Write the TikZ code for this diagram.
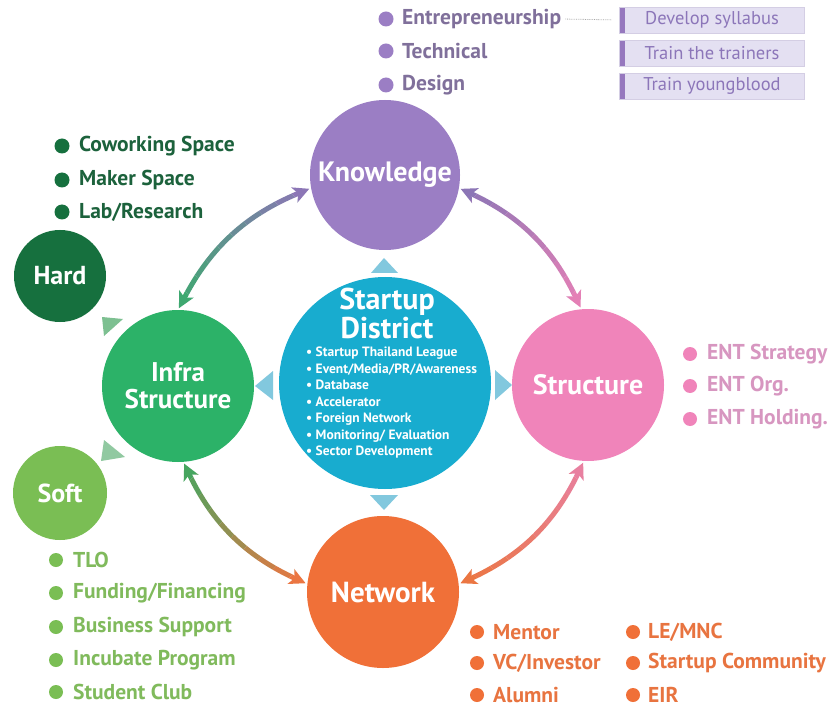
\documentclass[tikz,border=0pt]{standalone}
\usepackage{fontspec}
\setmainfont{PT Sans}
\usetikzlibrary{arrows.meta,calc}
\definecolor{kpur}{RGB}{155,126,196}
\definecolor{kpurtxt}{RGB}{128,112,155}
\definecolor{boxfill}{RGB}{228,224,242}
\definecolor{boxline}{RGB}{212,206,228}
\definecolor{boxbar}{RGB}{150,120,190}
\definecolor{boxtxt}{RGB}{140,118,185}
\definecolor{sdcyan}{RGB}{24,172,207}
\definecolor{tricyan}{RGB}{130,200,222}
\definecolor{igreen}{RGB}{44,178,104}
\definecolor{hgreen}{RGB}{22,112,62}
\definecolor{hgreentxt}{RGB}{28,98,60}
\definecolor{sgreen}{RGB}{122,190,84}
\definecolor{sgreentxt}{RGB}{128,186,92}
\definecolor{trigreen}{RGB}{125,192,145}
\definecolor{spink}{RGB}{240,132,186}
\definecolor{spinktxt}{RGB}{215,150,192}
\definecolor{norange}{RGB}{240,112,56}
\definecolor{norangetxt}{RGB}{232,116,64}
\definecolor{aPur}{RGB}{140,118,182}
\definecolor{aGrn}{RGB}{62,168,112}
\definecolor{aPink}{RGB}{228,128,182}
\definecolor{aGrn2}{RGB}{70,165,95}
\definecolor{aOr}{RGB}{235,118,66}
\definecolor{aPink2}{RGB}{232,128,160}
\tikzset{
  big/.style={circle, inner sep=0pt, outer sep=0pt, text=white, align=center},
  bulbig/.style={circle, inner sep=0pt, minimum size=15pt},
  bulsm/.style={circle, inner sep=0pt, minimum size=14pt},
  itm/.style={anchor=west, inner sep=0pt, font=\bfseries\fontsize{21.5}{21.5}\selectfont},
  sylbox/.style={rectangle, minimum width=185pt, minimum height=26pt, inner sep=0pt,
     fill=boxfill, draw=boxline, text=boxtxt, font=\fontsize{18.5}{18.5}\selectfont,
     path picture={\fill[boxbar] (path picture bounding box.north west) rectangle
       ([xshift=5pt]path picture bounding box.south west);}},
  garrow/.style={line width=5pt, shorten <=2pt, shorten >=2pt,
     {Stealth[length=16pt,width=16pt,inset=4pt]}-{Stealth[length=16pt,width=16pt,inset=4pt]}}
}
\newcommand\gradarrow[5]{%
  \foreach \i in {0,...,9}{%
    \pgfmathsetmacro\ta{ifthenelse(\i==0,-0.5,\i/10)}%
    \pgfmathsetmacro\tb{ifthenelse(\i==9,1.5,(\i+1)/10)}%
    \pgfmathtruncatemacro\pc{100-\i*100/9}%
    \begin{scope}
      \coordinate (ga) at ($(#1)!\ta!(#2)$);
      \coordinate (gb) at ($(#1)!\tb!(#2)$);
      \clip ($(ga)!400pt!90:(#2)$) -- ($(ga)!400pt!-90:(#2)$) --
            ($(gb)!400pt!-90:(#2)$) -- ($(gb)!400pt!90:(#2)$) -- cycle;
      \draw[garrow, color=#4!\pc!#5] (#1) to[#3] (#2);
    \end{scope}
  }%
}
\begin{document}
\begin{tikzpicture}[x=1pt,y=-1pt]
\useasboundingbox[fill=white] (0,0) rectangle (834,708);

% main circles
\node[big, fill=kpur, minimum size=150pt, font=\bfseries\fontsize{28}{28}\selectfont] (know) at (385,175) {Knowledge};
\node[big, fill=sdcyan, minimum size=212pt] (sd) at (385,383) {};
\node[big, fill=igreen, minimum size=152pt, font=\bfseries\fontsize{27}{27}\selectfont] (infra) at (178,386) {Infra\\Structure};
\node[big, fill=spink, minimum size=152pt, font=\bfseries\fontsize{28}{28}\selectfont] (struct) at (588,385) {Structure};
\node[big, fill=norange, minimum size=152pt, font=\bfseries\fontsize{29}{29}\selectfont] (net) at (383,592) {Network};
\node[big, fill=hgreen, minimum size=92pt, font=\bfseries\fontsize{26}{26}\selectfont] (hard) at (60,276) {Hard};
\node[big, fill=sgreen, minimum size=94pt, font=\bfseries\fontsize{26}{26}\selectfont] (soft) at (60,493) {Soft};

% startup district text
\node[text=white, align=center, inner sep=0pt, font=\bfseries\fontsize{30}{29}\selectfont] (sdt) at (387,313) {Startup\\District};
\node[anchor=north west, align=left, text=white, inner sep=0pt, font=\bfseries\fontsize{13.5}{16.5}\selectfont] (sdl) at (306,347)
 {\textbullet\ Startup Thailand League\\
  \textbullet\ Event/Media/PR/Awareness\\
  \textbullet\ Database\\
  \textbullet\ Accelerator\\
  \textbullet\ Foreign Network\\
  \textbullet\ Monitoring/ Evaluation\\
  \textbullet\ Sector Development};

% triangles around startup district
\fill[tricyan] (371,273) -- (398,273) -- (384,258) -- cycle;
\fill[tricyan] (273,371) -- (273,400) -- (255,386) -- cycle;
\fill[tricyan] (495,370) -- (495,400) -- (512,385) -- cycle;
\fill[tricyan] (370,495) -- (398,495) -- (384,510) -- cycle;
% triangles toward hard / soft
\fill[trigreen] (102,317) -- (123,319) -- (104,336) -- cycle;
\fill[trigreen!85!white] (101,461) -- (104,440) -- (125,457) -- cycle;

% curved double arrows
\gradarrow{know.190}{infra.90}{bend right=20}{aPur}{aGrn}
\gradarrow{know.-10}{struct.95}{bend left=20}{aPur}{aPink}
\gradarrow{infra.-86}{net.174}{bend right=20}{aGrn2}{aOr}
\gradarrow{struct.-93}{net.6}{bend left=20}{aPink2}{aOr}

% knowledge list
\node[bulbig, fill=kpur] (kb1) at (386,19) {};
\node[itm, text=kpurtxt] (k1) at (402,19) {Entrepreneurship};
\node[bulbig, fill=kpur] (kb2) at (386,51) {};
\node[itm, text=kpurtxt] (k2) at (402,51) {Technical};
\node[bulbig, fill=kpur] (kb3) at (386,85) {};
\node[itm, text=kpurtxt] (k3) at (402,85) {Design};
\node[sylbox] (box1) at (712,20) {Develop syllabus};
\node[sylbox] (box2) at (712,53) {Train the trainers};
\node[sylbox] (box3) at (712,86) {Train youngblood};
\draw[gray!70, densely dotted, line width=0.8pt, shorten <=4pt, shorten >=8pt] (k1.east) -- (box1.west);

% hard list
\node[bulbig, fill=hgreen] (hb1) at (62,146) {};
\node[itm, text=hgreentxt] (h1) at (79,146) {Coworking Space};
\node[bulbig, fill=hgreen] (hb2) at (62,180) {};
\node[itm, text=hgreentxt] (h2) at (79,180) {Maker Space};
\node[bulbig, fill=hgreen] (hb3) at (62,212) {};
\node[itm, text=hgreentxt] (h3) at (79,212) {Lab/Research};

% soft list
\node[bulsm, fill=sgreen] (sb1) at (56,560) {};
\node[itm, text=sgreentxt] (s1) at (73,560) {TLO};
\node[bulsm, fill=sgreen] (sb2) at (56,593) {};
\node[itm, text=sgreentxt] (s2) at (73,593) {Funding/Financing};
\node[bulsm, fill=sgreen] (sb3) at (56,627) {};
\node[itm, text=sgreentxt] (s3) at (73,627) {Business Support};
\node[bulsm, fill=sgreen] (sb4) at (56,660) {};
\node[itm, text=sgreentxt] (s4) at (73,660) {Incubate Program};
\node[bulsm, fill=sgreen] (sb5) at (56,692) {};
\node[itm, text=sgreentxt] (s5) at (73,692) {Student Club};

% structure list
\node[bulsm, fill=spink] (pb1) at (690,354) {};
\node[itm, text=spinktxt] (p1) at (707,354) {ENT Strategy};
\node[bulsm, fill=spink] (pb2) at (690,386) {};
\node[itm, text=spinktxt] (p2) at (707,386) {ENT Org.};
\node[bulsm, fill=spink] (pb3) at (690,419) {};
\node[itm, text=spinktxt] (p3) at (707,419) {ENT Holding.};

% network list
\node[bulsm, fill=norange] (nb1) at (477,632) {};
\node[itm, text=norangetxt] (n1) at (493,632) {Mentor};
\node[bulsm, fill=norange] (nb2) at (477,663) {};
\node[itm, text=norangetxt] (n2) at (493,663) {VC/Investor};
\node[bulsm, fill=norange] (nb3) at (477,695) {};
\node[itm, text=norangetxt] (n3) at (493,695) {Alumni};
\node[bulsm, fill=norange] (nb4) at (633,632) {};
\node[itm, text=norangetxt] (n4) at (648,632) {LE/MNC};
\node[bulsm, fill=norange] (nb5) at (633,663) {};
\node[itm, text=norangetxt] (n5) at (648,663) {Startup Community};
\node[bulsm, fill=norange] (nb6) at (633,695) {};
\node[itm, text=norangetxt] (n6) at (648,695) {EIR};
\end{tikzpicture}
\end{document}
